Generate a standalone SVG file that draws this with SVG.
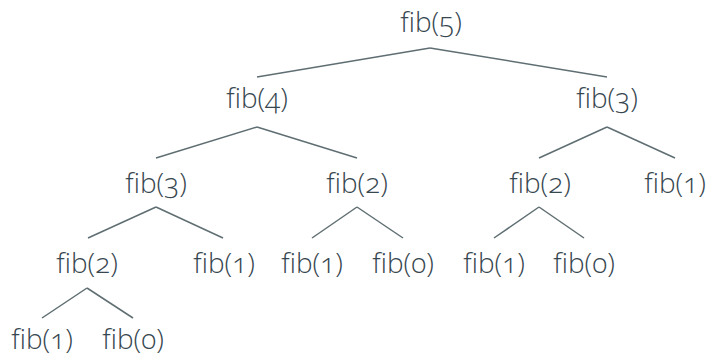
<svg xmlns="http://www.w3.org/2000/svg" width="709" height="356" viewBox="0 0 709 356">
<style>
text{font-family:"Open Sans","Lato","DejaVu Sans",sans-serif;font-weight:300;font-size:28px;fill:#37474f;text-anchor:middle;font-variant-numeric:oldstyle-nums;}
.e line{stroke:#5f6e72;stroke-width:1.5;fill:none;}
</style>
<rect width="709" height="356" fill="#ffffff"/>
<g id="connectors" class="e">
<line x1="430" y1="48" x2="257" y2="77"/>
<line x1="430" y1="48" x2="607" y2="77"/>
<line x1="257" y1="127" x2="156" y2="158"/>
<line x1="257" y1="127" x2="357" y2="158"/>
<line x1="607" y1="127" x2="539" y2="158"/>
<line x1="607" y1="127" x2="675" y2="158"/>
<line x1="156" y1="207" x2="88" y2="238"/>
<line x1="156" y1="207" x2="223" y2="238"/>
<line x1="357" y1="207" x2="312" y2="238"/>
<line x1="357" y1="207" x2="403" y2="238"/>
<line x1="539" y1="207" x2="494" y2="238"/>
<line x1="539" y1="207" x2="584" y2="238"/>
<line x1="87" y1="288" x2="42" y2="318"/>
<line x1="87" y1="288" x2="133" y2="318"/>
</g>
<g id="n5"><text x="431" y="32">fib(5)</text></g>
<g id="n4"><text x="257" y="108">fib(4)</text></g>
<g id="n3r"><text x="607" y="108">fib(3)</text></g>
<g id="n3l"><text x="156" y="193">fib(3)</text></g>
<g id="n2m"><text x="357" y="193">fib(2)</text></g>
<g id="n2r"><text x="540" y="193">fib(2)</text></g>
<g id="n1r"><text x="675" y="193">fib(1)</text></g>
<g id="n2l"><text x="87" y="273">fib(2)</text></g>
<g id="n1a"><text x="224" y="273">fib(1)</text></g>
<g id="n1b"><text x="312" y="273">fib(1)</text></g>
<g id="n0a"><text x="403" y="273">fib(0)</text></g>
<g id="n1c"><text x="494" y="273">fib(1)</text></g>
<g id="n0b"><text x="584" y="273">fib(0)</text></g>
<g id="n1d"><text x="42" y="349">fib(1)</text></g>
<g id="n0c"><text x="133" y="349">fib(0)</text></g>
</svg>
